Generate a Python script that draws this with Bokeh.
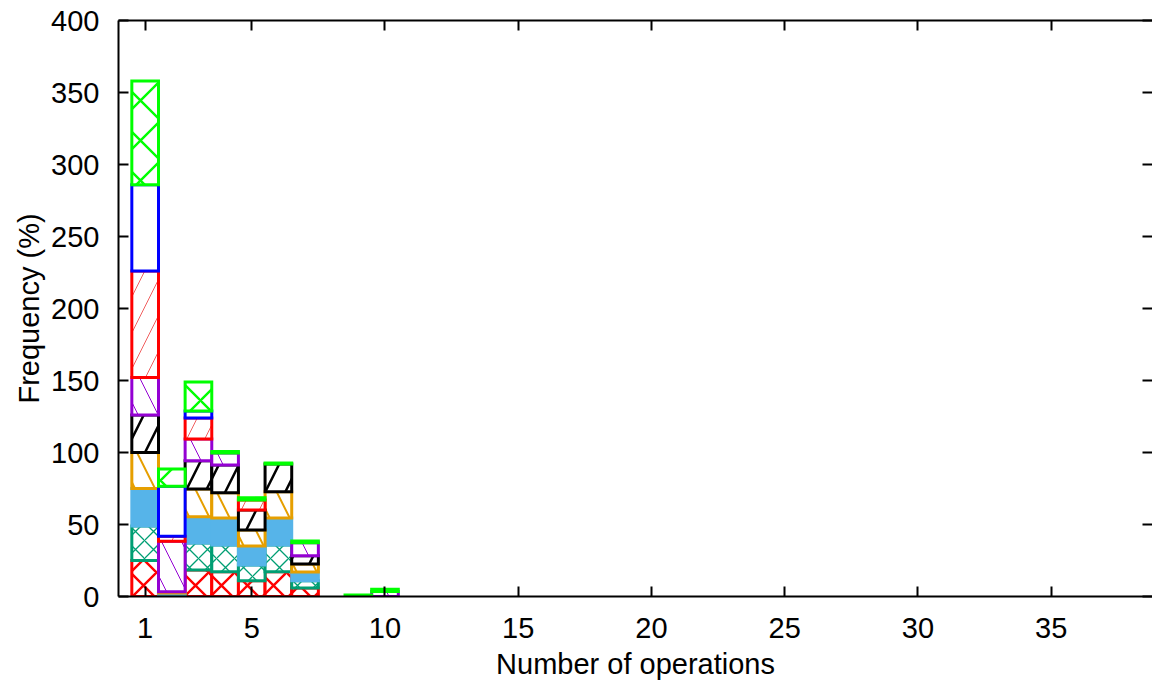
from bokeh.plotting import figure
from bokeh.models import Range1d, LinearAxis, FixedTicker, ColumnDataSource, CustomJSTickFormatter
from bokeh.embed import file_html
from bokeh.resources import INLINE

# ---- data ----
ops = [1, 2, 3, 4, 5, 6, 7, 8, 9, 10]
red_cross = [25, 1, 18.4, 17.2, 11, 17.2, 5.9, 0, 0, 0]
teal_cross = [24, 0.5, 18.8, 18.6, 10.9, 18.6, 5.1, 0, 0, 0]
sky_solid = [26, 1, 18.2, 18.7, 13.1, 18.7, 6, 0, 0, 0]
orange_back = [25, 0.8, 19.3, 17.5, 11.2, 18.3, 5.6, 0, 0, 0]
black_fwd = [26, 0, 19.6, 19.3, 13.8, 19.2, 5.7, 0, 0, 0]
purple_back = [26, 35, 15.1, 8.4, 0, 0, 9.1, 0, 0, 3.5]
red_fwd = [74, 3.5, 14.6, 0, 7, 0, 0, 0, 0, 0]
blue_empty = [60, 34.7, 4.8, 0, 0, 0, 0, 0, 0, 0]
green_cross = [72, 12, 20.2, 1, 1.6, 0.7, 1.1, 0, 1, 1.5]

x_ticks = [1, 5, 10, 15, 20, 25, 30, 35]
y_ticks = [0, 50, 100, 150, 200, 250, 300, 350, 400]

series = [red_cross, teal_cross, sky_solid, orange_back, black_fwd,
          purple_back, red_fwd, blue_empty, green_cross]

styles = [
    dict(line_color="#FF0000", fill_color="white", hatch_pattern="diagonal_cross",
         hatch_color="#FF0000", hatch_scale=26, hatch_weight=2.4),
    dict(line_color="#009E73", fill_color="white", hatch_pattern="diagonal_cross",
         hatch_color="#009E73", hatch_scale=18, hatch_weight=1.3),
    dict(line_color="#56B4E9", fill_color="#56B4E9"),
    dict(line_color="#E69F00", fill_color="white", hatch_pattern="\\",
         hatch_color="#E69F00", hatch_scale=40, hatch_weight=2),
    dict(line_color="#000000", fill_color="white", hatch_pattern="/",
         hatch_color="#000000", hatch_scale=40, hatch_weight=2.5),
    dict(line_color="#9400D3", fill_color="white", hatch_pattern="\\",
         hatch_color="#9400D3", hatch_scale=40, hatch_weight=1),
    dict(line_color="#FF0000", fill_color="white", hatch_pattern="/",
         hatch_color="#F06060", hatch_scale=36, hatch_weight=1),
    dict(line_color="#0000FF", fill_color="white"),
    dict(line_color="#00FF00", fill_color="white", hatch_pattern="diagonal_cross",
         hatch_color="#00FF00", hatch_scale=40, hatch_weight=2.4),
]

FONT = "Liberation Sans"

p = figure(frame_width=1034, frame_height=576, output_backend="svg", toolbar_location=None,
           x_range=Range1d(0, 38.8), y_range=Range1d(0, 400),
           min_border_left=118, min_border_right=0, min_border_top=20,
           min_border_bottom=0)
p.outline_line_color = None
p.xgrid.visible = False
p.ygrid.visible = False
p.background_fill_color = "white"

# stacked bars
base = [0.0] * len(ops)
for vals, st in zip(series, styles):
    xs, bots, tops = [], [], []
    for i, v in enumerate(vals):
        if v > 0:
            xs.append(ops[i])
            bots.append(base[i])
            tops.append(base[i] + v)
        base[i] += v
    src = ColumnDataSource(dict(x=xs, bottom=bots, top=tops))
    p.vbar(x="x", bottom="bottom", top="top", width=1.0, source=src,
           line_width=3, line_join="miter", **st)

# axes styling
def style_axis(ax, labels=True):
    ax.axis_line_width = 2
    ax.axis_line_color = "black"
    ax.major_tick_in = 10
    ax.major_tick_out = 0
    ax.major_tick_line_width = 2
    ax.minor_tick_line_color = None
    ax.major_label_text_font = FONT
    ax.major_label_text_color = "black"
    ax.axis_label_text_font = FONT
    ax.axis_label_text_font_style = "normal"
    ax.axis_label_text_color = "black"
    if not labels:
        ax.formatter = CustomJSTickFormatter(code="return '';")
        ax.major_label_standoff = 0

xa = p.xaxis[0]
xa.ticker = FixedTicker(ticks=x_ticks)
style_axis(xa)
xa.major_label_text_font_size = "29px"
xa.major_label_standoff = 21
xa.axis_label = "Number of operations"
xa.axis_label_text_font_size = "29px"
xa.axis_label_standoff = 7

ya = p.yaxis[0]
ya.ticker = FixedTicker(ticks=y_ticks)
style_axis(ya)
ya.major_label_text_font_size = "29px"
ya.major_label_standoff = 19
ya.axis_label = "Frequency (%)"
ya.axis_label_text_font_size = "29px"
ya.axis_label_standoff = 3

top_ax = LinearAxis(ticker=FixedTicker(ticks=x_ticks))
style_axis(top_ax, labels=False)
p.add_layout(top_ax, "above")

right_ax = LinearAxis(ticker=FixedTicker(ticks=y_ticks))
style_axis(right_ax, labels=False)
right_ax.axis_line_color = None
p.add_layout(right_ax, "right")

open("out.html", "w").write(file_html(p, INLINE))
